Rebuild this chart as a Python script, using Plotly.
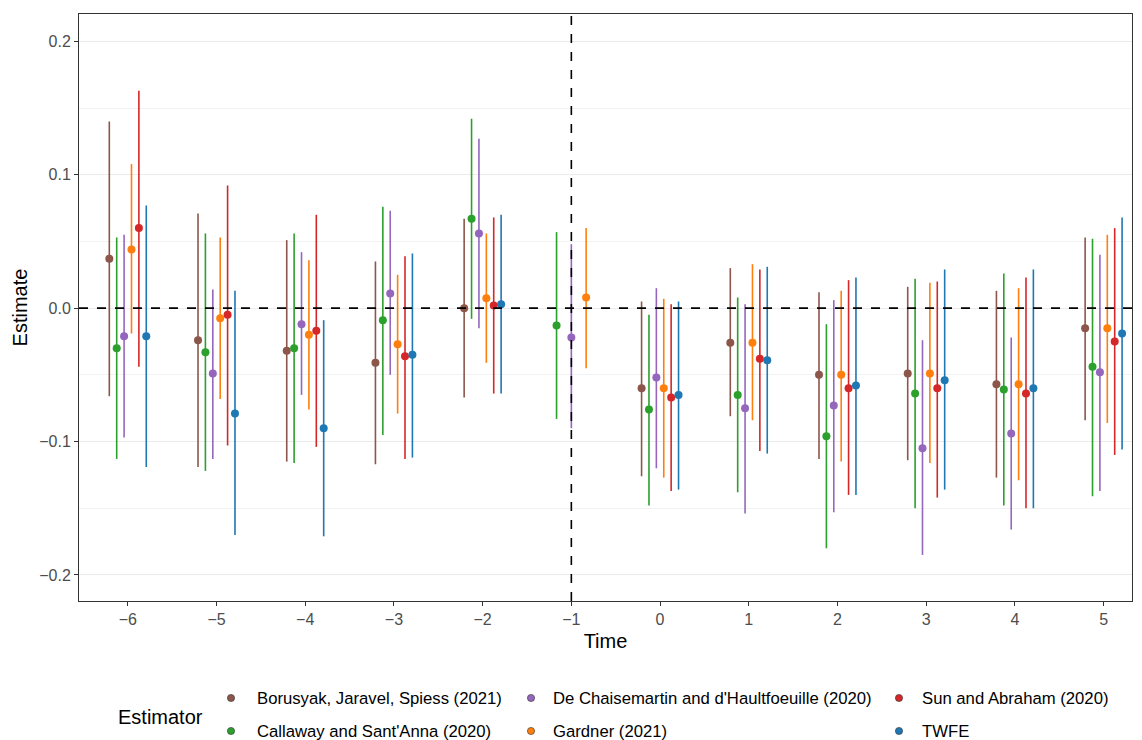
import plotly.graph_objects as go

times = [-6, -5, -4, -3, -2, -1, 0, 1, 2, 3, 4, 5]
estimators = [
    "Borusyak, Jaravel, Spiess (2021)",
    "Callaway and Sant'Anna (2020)",
    "De Chaisemartin and d'Haultfoeuille (2020)",
    "Gardner (2021)",
    "Sun and Abraham (2020)",
    "TWFE",
]
colors = ["#8c564b", "#2ca02c", "#9467bd", "#ff7f0e", "#d62728", "#1f77b4"]

bjs_est = [0.037, -0.024, -0.032, -0.041, 0.000, None, -0.060, -0.026, -0.050, -0.049, -0.057, -0.015]
bjs_lo = [-0.066, -0.119, -0.115, -0.117, -0.067, None, -0.126, -0.081, -0.113, -0.114, -0.127, -0.084]
bjs_hi = [0.140, 0.071, 0.051, 0.035, 0.067, None, 0.005, 0.030, 0.012, 0.016, 0.013, 0.053]

cs_est = [-0.030, -0.033, -0.030, -0.009, 0.067, -0.013, -0.076, -0.065, -0.096, -0.064, -0.061, -0.044]
cs_lo = [-0.113, -0.122, -0.116, -0.095, -0.008, -0.083, -0.148, -0.138, -0.180, -0.150, -0.148, -0.141]
cs_hi = [0.053, 0.056, 0.056, 0.076, 0.142, 0.057, -0.005, 0.008, -0.012, 0.022, 0.026, 0.052]

dcdh_est = [-0.021, -0.049, -0.012, 0.011, 0.056, -0.022, -0.052, -0.075, -0.073, -0.105, -0.094, -0.048]
dcdh_lo = [-0.097, -0.113, -0.065, -0.050, -0.015, -0.090, -0.120, -0.154, -0.153, -0.185, -0.166, -0.137]
dcdh_hi = [0.055, 0.014, 0.042, 0.073, 0.127, 0.048, 0.015, 0.003, 0.006, -0.024, -0.022, 0.040]

gar_est = [0.044, -0.0075, -0.020, -0.027, 0.0075, 0.008, -0.060, -0.026, -0.050, -0.049, -0.057, -0.015]
gar_lo = [-0.019, -0.068, -0.076, -0.079, -0.041, -0.045, -0.127, -0.084, -0.115, -0.116, -0.129, -0.086]
gar_hi = [0.108, 0.053, 0.036, 0.025, 0.056, 0.060, 0.007, 0.033, 0.013, 0.019, 0.015, 0.055]

sa_est = [0.060, -0.005, -0.017, -0.036, 0.002, None, -0.067, -0.038, -0.060, -0.060, -0.064, -0.025]
sa_lo = [-0.044, -0.103, -0.104, -0.113, -0.064, None, -0.137, -0.107, -0.140, -0.142, -0.150, -0.110]
sa_hi = [0.163, 0.092, 0.070, 0.039, 0.068, None, 0.003, 0.029, 0.021, 0.020, 0.023, 0.060]

twfe_est = [-0.021, -0.079, -0.090, -0.035, 0.003, None, -0.065, -0.039, -0.058, -0.054, -0.060, -0.019]
twfe_lo = [-0.119, -0.170, -0.171, -0.112, -0.064, None, -0.136, -0.109, -0.140, -0.136, -0.150, -0.106]
twfe_hi = [0.077, 0.013, -0.009, 0.041, 0.070, None, 0.005, 0.031, 0.023, 0.029, 0.029, 0.068]

x_ticks = [-6, -5, -4, -3, -2, -1, 0, 1, 2, 3, 4, 5]
x_ticktext = ["\u22126", "\u22125", "\u22124", "\u22123", "\u22122", "\u22121", "0", "1", "2", "3", "4", "5"]
y_ticks = [-0.2, -0.1, 0.0, 0.1, 0.2]
y_ticktext = ["\u22120.2", "\u22120.1", "0.0", "0.1", "0.2"]

series = [
    (bjs_est, bjs_lo, bjs_hi),
    (cs_est, cs_lo, cs_hi),
    (dcdh_est, dcdh_lo, dcdh_hi),
    (gar_est, gar_lo, gar_hi),
    (sa_est, sa_lo, sa_hi),
    (twfe_est, twfe_lo, twfe_hi),
]

DODGE = 0.5
FONT = "Liberation Sans, Arial, sans-serif"

# dodge positions: spread estimators present at each time across DODGE width
xpos = [[None] * len(times) for _ in series]
for ti in range(len(times)):
    present = [k for k in range(len(series)) if series[k][0][ti] is not None]
    n = len(present)
    for j, k in enumerate(present):
        xpos[k][ti] = times[ti] + (j - (n - 1) / 2) * DODGE / n

fig = go.Figure()
for k, (est, lo, hi) in enumerate(series):
    xs, ys, up, dn = [], [], [], []
    for ti in range(len(times)):
        if est[ti] is None:
            continue
        xs.append(xpos[k][ti])
        ys.append(est[ti])
        up.append(hi[ti] - est[ti])
        dn.append(est[ti] - lo[ti])
    fig.add_trace(go.Scatter(
        x=xs, y=ys, mode="markers", name=estimators[k], showlegend=False,
        marker=dict(color=colors[k], size=8),
        error_y=dict(type="data", symmetric=False, array=up, arrayminus=dn,
                     color=colors[k], thickness=1.6, width=0),
    ))

fig.add_shape(type="line", xref="paper", x0=0, x1=1, yref="y", y0=0, y1=0,
              line=dict(color="black", width=1.6, dash="dash"))
fig.add_shape(type="line", xref="x", x0=-1, x1=-1, yref="paper", y0=0, y1=1,
              line=dict(color="black", width=1.6, dash="dash"))

# Manual legend (3 columns x 2 rows)
L, R, T, B = 79, 1132, 14, 601
W, H = R - L, B - T
def px(x):
    return (x - L) / W
def py(y):
    return (B - y) / H

fig.add_annotation(xref="paper", yref="paper", x=px(116), y=py(717), xanchor="left",
                   yanchor="middle", text="Estimator", showarrow=False,
                   font=dict(family=FONT, size=20, color="black"))
dot_x = [231, 231, 531, 531, 899, 899]
txt_x = [255, 255, 551, 551, 920, 920]
row_y = [698, 731, 698, 731, 698, 731]
for k in range(len(estimators)):
    fig.add_shape(type="circle", xref="paper", yref="paper",
                  xsizemode="pixel", ysizemode="pixel",
                  xanchor=px(dot_x[k]), yanchor=py(row_y[k]),
                  x0=-3.6, x1=3.6, y0=-3.6, y1=3.6,
                  fillcolor=colors[k], line=dict(color="#333333", width=0.6))
    fig.add_annotation(xref="paper", yref="paper", x=px(txt_x[k]), y=py(row_y[k]),
                       xanchor="left", yanchor="middle", text=estimators[k],
                       showarrow=False, font=dict(family=FONT, size=16.7, color="black"))

fig.update_layout(
    width=1142, height=740,
    margin=dict(l=L, r=1142 - R, t=T, b=740 - B, autoexpand=False),
    paper_bgcolor="white", plot_bgcolor="white",
    font=dict(family=FONT, color="black"),
    showlegend=False,
    xaxis=dict(
        range=[-6.55, 5.32], tickvals=x_ticks, ticktext=x_ticktext,
        showgrid=False, zeroline=False,
        showline=True, mirror=True, linecolor="#333333", linewidth=1,
        ticks="outside", ticklen=4, tickcolor="#333333", tickwidth=1,
        tickfont=dict(family=FONT, size=16, color="#4d4d4d"),
        title=dict(text="Time", font=dict(family=FONT, size=20, color="black"), standoff=6),
    ),
    yaxis=dict(
        range=[-0.2195, 0.2205], tickvals=y_ticks, ticktext=y_ticktext,
        showgrid=True, gridcolor="#ebebeb", gridwidth=1.1, zeroline=False,
        minor=dict(dtick=0.05, tick0=0, showgrid=True, gridcolor="#f2f2f2", gridwidth=0.6),
        showline=True, mirror=True, linecolor="#333333", linewidth=1,
        ticks="outside", ticklen=4, tickcolor="#333333", tickwidth=1,
        tickfont=dict(family=FONT, size=16, color="#4d4d4d"),
        title=dict(text="Estimate", font=dict(family=FONT, size=20, color="black"), standoff=6),
    ),
)

fig.write_html("out.html", config={"displayModeBar": False},
               post_script="document.body.style.margin='0px';document.body.style.padding='0px';")
